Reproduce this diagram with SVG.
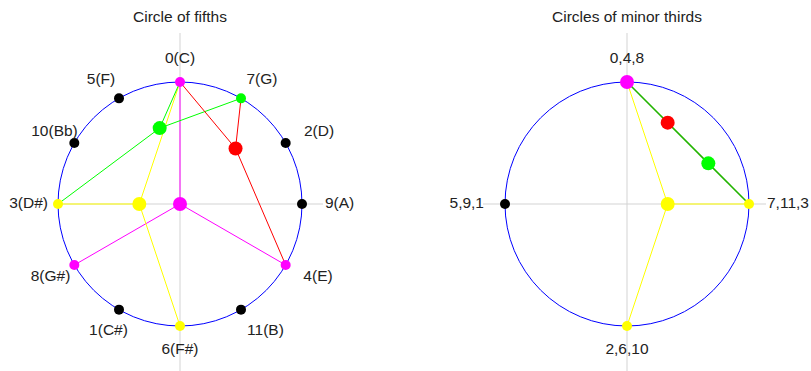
<svg xmlns="http://www.w3.org/2000/svg" width="811" height="371" viewBox="0 0 811 371">
<style>
text{font-family:"Liberation Sans",Arial,sans-serif;font-size:15.5px;fill:#222}
.m{text-anchor:middle}.e{text-anchor:end}
.ax{stroke:#d3d3d3;stroke-width:1;fill:none}
.ring{stroke:#0000ff;stroke-width:1;fill:none}
.cn line{stroke-width:1}
.r{stroke:#ff0000}.g{stroke:#00ff00}.y{stroke:#ffff00}.p{stroke:#ff00ff}
.cn line.gw{stroke:#22b400;stroke-width:1.6}
.k{fill:#000}.fr{fill:#ff0000}.fg{fill:#00ff00}.fy{fill:#ffff00}.fp{fill:#ff00ff}
</style>
<rect width="811" height="371" fill="#fff"/>
<g id="left-axes">
<line class="ax" x1="180" y1="33" x2="180" y2="371"/>
<line class="ax" x1="58" y1="204" x2="323" y2="204"/>
</g>
<g id="right-axes">
<line class="ax" x1="627" y1="33" x2="627" y2="371"/>
<line class="ax" x1="483" y1="204" x2="766" y2="204"/>
</g>
<text class="m" x="180" y="22">Circle of fifths</text>
<text class="m" x="627" y="22">Circles of minor thirds</text>
<circle class="ring" cx="180" cy="204" r="122"/>
<circle class="ring" cx="627" cy="204" r="122"/>
<g id="connectors" class="cn">
<line class="p" x1="180" y1="82" x2="180" y2="204"/>
<line class="p" x1="285.66" y1="265" x2="180" y2="204"/>
<line class="p" x1="74.34" y1="265" x2="180" y2="204"/>
<line class="y" x1="180" y1="82" x2="139.33" y2="204"/>
<line class="y" x1="58" y1="204" x2="139.33" y2="204"/>
<line class="y" x1="180" y1="326" x2="139.33" y2="204"/>
<line class="g" x1="180" y1="82" x2="159.67" y2="128.11"/>
<line class="g" x1="241" y1="98.34" x2="159.67" y2="128.11"/>
<line class="g" x1="58" y1="204" x2="159.67" y2="128.11"/>
<line class="r" x1="180" y1="82" x2="235.55" y2="148.45"/>
<line class="r" x1="241" y1="98.34" x2="235.55" y2="148.45"/>
<line class="r" x1="285.66" y1="265" x2="235.55" y2="148.45"/>
<line class="y" x1="627" y1="82" x2="667.67" y2="204"/>
<line class="y" x1="749" y1="204" x2="667.67" y2="204"/>
<line class="y" x1="627" y1="326" x2="667.67" y2="204"/>
<line class="r" x1="627" y1="82" x2="667.67" y2="122.67"/>
<line class="r" x1="749" y1="204" x2="667.67" y2="122.67"/>
<line class="gw" x1="627" y1="82" x2="708.33" y2="163.33"/>
<line class="gw" x1="749" y1="204" x2="708.33" y2="163.33"/>
</g>
<g id="p0"><circle class="fp" cx="180" cy="82" r="5"/><text class="m" x="180" y="63">0(C)</text></g>
<g id="p7"><circle class="fg" cx="241" cy="98.34" r="5"/><text class="m" x="262" y="83.5">7(G)</text></g>
<g id="p2"><circle class="k" cx="285.66" cy="143" r="5"/><text class="m" x="319" y="135.5">2(D)</text></g>
<g id="p9"><circle class="k" cx="302" cy="204" r="5"/><text x="325" y="208">9(A)</text></g>
<g id="p4"><circle class="fp" cx="285.66" cy="265" r="5"/><text class="m" x="318" y="280.5">4(E)</text></g>
<g id="p11"><circle class="k" cx="241" cy="309.66" r="5"/><text class="m" x="265.5" y="334.5">11(B)</text></g>
<g id="p6"><circle class="fy" cx="180" cy="326" r="5"/><text class="m" x="180" y="353.5">6(F#)</text></g>
<g id="p1"><circle class="k" cx="119" cy="309.66" r="5"/><text class="m" x="108.5" y="334.5">1(C#)</text></g>
<g id="p8"><circle class="fp" cx="74.34" cy="265" r="5"/><text class="m" x="50.5" y="280.5">8(G#)</text></g>
<g id="p3"><circle class="fy" cx="58" cy="204" r="5"/><text class="e" x="48" y="208">3(D#)</text></g>
<g id="p10"><circle class="k" cx="74.34" cy="143" r="5"/><text class="m" x="54.5" y="135.5">10(Bb)</text></g>
<g id="p5"><circle class="k" cx="119" cy="98.34" r="5"/><text class="m" x="101" y="83.5">5(F)</text></g>
<g id="c-aug"><circle class="fp" cx="180" cy="204" r="7"/></g>
<g id="c-dim"><circle class="fy" cx="139.33" cy="204" r="7"/></g>
<g id="c-green"><circle class="fg" cx="159.67" cy="128.11" r="7"/></g>
<g id="c-red"><circle class="fr" cx="235.55" cy="148.45" r="7"/></g>
<g id="m048"><text class="m" x="627" y="63">0,4,8</text></g>
<g id="m7113"><circle class="fy" cx="749" cy="204" r="5"/><text x="767" y="208">7,11,3</text></g>
<g id="m2610"><circle class="fy" cx="627" cy="326" r="5"/><text class="m" x="627" y="353.5">2,6,10</text></g>
<g id="m591"><circle class="k" cx="505" cy="204" r="5"/><text class="e" x="484" y="208">5,9,1</text></g>
<g id="mc-red"><circle class="fr" cx="667.67" cy="122.67" r="7"/></g>
<g id="mc-green"><circle class="fg" cx="708.33" cy="163.33" r="7"/></g>
<g id="mc-dim"><circle class="fy" cx="667.67" cy="204" r="7"/></g>
<g id="mc-aug"><circle class="fp" cx="627" cy="82" r="7"/></g>
</svg>
